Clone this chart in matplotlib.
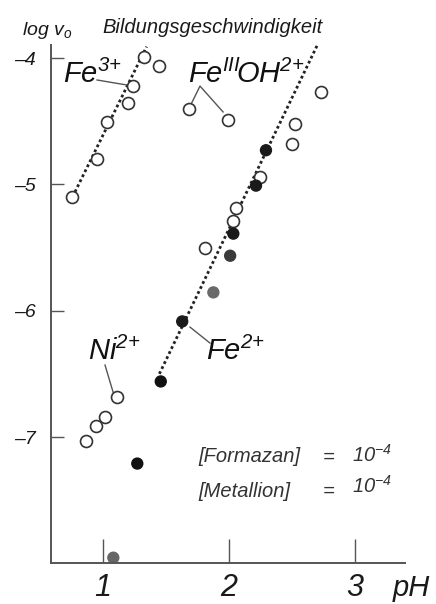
import matplotlib
matplotlib.use("Agg")
import matplotlib.pyplot as plt

plt.rcParams['font.family'] = ['Liberation Sans', 'DejaVu Sans']
plt.rcParams['font.style'] = 'italic'
plt.rcParams['mathtext.fontset'] = 'custom'
plt.rcParams['mathtext.rm'] = 'Liberation Sans:italic'
plt.rcParams['mathtext.it'] = 'Liberation Sans:italic'
plt.rcParams['mathtext.sf'] = 'Liberation Sans:italic'

# ---- data (pH, log v0) ----
fe3_ph = [0.757, 0.955, 1.032, 1.198, 1.238, 1.327, 1.446]
fe3_logv = [-5.10, -4.80, -4.51, -4.36, -4.22, -3.995, -4.06]

feoh_ph = [1.684, 1.995, 2.727, 2.524, 2.503, 2.246, 2.06, 2.03, 1.81]
feoh_logv = [-4.40, -4.49, -4.27, -4.52, -4.68, -4.94, -5.19, -5.29, -5.50]

fe2_ph = [2.294, 2.215, 2.035, 2.01, 1.877, 1.63, 1.46, 1.274, 1.084]
fe2_logv = [-4.73, -5.01, -5.39, -5.565, -5.855, -6.085, -6.56, -7.21, -7.955]
fe2_shade = ['#1a1a1a', '#1a1a1a', '#1a1a1a', '#3a3a3a', '#6a6a6a', '#1a1a1a', '#111111', '#111111', '#666666']

ni_ph = [1.11, 1.018, 0.947, 0.865]
ni_logv = [-6.68, -6.84, -6.915, -7.03]

fe3_fit_ph = [0.78, 1.348]
fe3_fit_logv = [-5.06, -3.91]
fe2_fit_ph = [1.449, 2.70]
fe2_fit_logv = [-6.50, -3.90]

xticks = [1, 2, 3]
xticklabels = ['1', '2', '3']
yticks = [-4, -5, -6, -7]
yticklabels = ['\u20134', '\u20135', '\u20136', '\u20137']

# leader lines (label -> point)
fe3_lead_ph = [0.955, 1.193]
fe3_lead_logv = [-4.174, -4.214]
feoh_lead_ph = [1.705, 1.771, 1.954]
feoh_lead_logv = [-4.356, -4.222, -4.427]
ni_lead_ph = [1.018, 1.082]
ni_lead_logv = [-6.43, -6.644]
fe2_lead_ph = [1.692, 1.85]
fe2_lead_logv = [-6.13, -6.256]

W, H = 436, 604
fig = plt.figure(figsize=(W / 100, H / 100), dpi=100)
ax = fig.add_axes([51 / W, 1 - 563 / H, (405 - 51) / W, (563 - 45) / H])
ax.set_xlim(0.590, 3.396)
ax.set_ylim(-7.997, -3.897)

for s in ['top', 'right']:
    ax.spines[s].set_visible(False)
for s in ['left', 'bottom']:
    ax.spines[s].set_color('#555555')
    ax.spines[s].set_linewidth(1.4)
    ax.spines[s].set_zorder(5)

ax.set_xticks(xticks)
ax.set_xticklabels(xticklabels, fontsize=22)
ax.set_yticks(yticks)
ax.set_yticklabels(yticklabels, fontsize=14)
ax.tick_params(axis='x', direction='in', length=17, width=1.0, color='#555555', pad=7)
ax.tick_params(axis='y', direction='in', length=9, width=1.0, color='#555555', pad=11)
for lab in ax.get_xticklabels() + ax.get_yticklabels():
    lab.set_color('#1a1a1a')

# fitted dotted lines
ax.plot(fe3_fit_ph, fe3_fit_logv, color='#222222', lw=2.0, ls=(0, (1, 1)), zorder=1)
ax.plot(fe2_fit_ph, fe2_fit_logv, color='#222222', lw=2.0, ls=(0, (1, 1)), zorder=1)

# leader lines
for lp, ll in [(fe3_lead_ph, fe3_lead_logv), (feoh_lead_ph, feoh_lead_logv),
               (ni_lead_ph, ni_lead_logv), (fe2_lead_ph, fe2_lead_logv)]:
    ax.plot(lp, ll, color='#555555', lw=1.0, zorder=2)

open_kw = dict(marker='o', ms=8.6, mfc='white', mec='#333333', mew=1.2, ls='none', zorder=3)
ax.plot(fe3_ph, fe3_logv, **open_kw)
ax.plot(feoh_ph, feoh_logv, **open_kw)
ax.plot(ni_ph, ni_logv, **open_kw)
ax.scatter(fe2_ph, fe2_logv, s=62, c=fe2_shade, edgecolors=fe2_shade, zorder=3, clip_on=False)

# labels
lab_kw = dict(fontsize=21, color='#111111')
ax.text(0.685, -4.198, r'$\mathrm{Fe}^{3{+}}$', **lab_kw)
ax.text(1.676, -4.198, r'$\mathrm{Fe^{III}\!OH^{2{+}}}$', **lab_kw)
ax.text(0.884, -6.39, r'$\mathrm{Ni}^{2{+}}$', **lab_kw)
ax.text(1.819, -6.39, r'$\mathrm{Fe}^{2{+}}$', **lab_kw)

leg_kw = dict(fontsize=14.5, color='#333333')
ax.text(1.756, -7.198, '[Formazan]', **leg_kw)
ax.text(1.756, -7.475, '[Metallion]', **leg_kw)
ax.text(2.746, -7.20, '=', **leg_kw)
ax.text(2.746, -7.47, '=', **leg_kw)
ax.text(2.976, -7.198, r'$\mathrm{10^{-4}}$', **leg_kw)
ax.text(2.976, -7.443, r'$\mathrm{10^{-4}}$', **leg_kw)

fig.text(22 / W, 1 - 35 / H, r'$\mathrm{log\ v_o}$', fontsize=14, color='#1a1a1a')
fig.text(102 / W, 1 - 33 / H, 'Bildungsgeschwindigkeit', fontsize=14.5, color='#1a1a1a')
fig.text(393 / W, 1 - 596 / H, 'pH', fontsize=21, color='#1a1a1a')

fig.savefig('out.png', dpi=100, facecolor='white')
